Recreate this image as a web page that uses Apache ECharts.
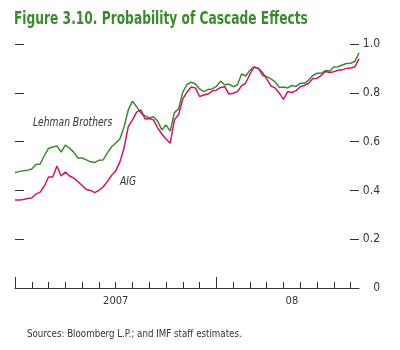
<!DOCTYPE html>
<html>
<head>
    <meta charset="utf-8">
    <script src="https://cdn.jsdelivr.net/npm/echarts@6/dist/echarts.min.js"></script>
    <style>
        html, body { margin: 0; padding: 0; background: #fff; }
        #main { width: 400px; height: 350px; }
    </style>
</head>
<body>
<div id="main"></div>
<script type="text/javascript">
    // readings every quarter month, starting January 2007
    var STEP = 0.25;
    var lehman = [
        0.473, 0.477, 0.481, 0.483, 0.488, 0.506, 0.508, 0.543, 0.572, 0.578,
        0.582, 0.557, 0.586, 0.572, 0.557, 0.533, 0.533, 0.525, 0.517, 0.514,
        0.524, 0.525, 0.553, 0.578, 0.594, 0.611, 0.660, 0.730, 0.766, 0.743,
        0.717, 0.705, 0.697, 0.702, 0.684, 0.648, 0.668, 0.643, 0.719, 0.734,
        0.803, 0.834, 0.844, 0.836, 0.816, 0.805, 0.814, 0.816, 0.826, 0.848,
        0.832, 0.836, 0.825, 0.832, 0.877, 0.869, 0.893, 0.905, 0.900, 0.871,
        0.866, 0.857, 0.845, 0.822, 0.824, 0.820, 0.830, 0.826, 0.839, 0.839,
        0.852, 0.871, 0.880, 0.880, 0.891, 0.889, 0.906, 0.907, 0.914, 0.920,
        0.921, 0.928, 0.964
    ];
    var aig = [
        0.361, 0.361, 0.363, 0.367, 0.369, 0.385, 0.393, 0.418, 0.455, 0.455,
        0.500, 0.459, 0.475, 0.459, 0.451, 0.436, 0.420, 0.404, 0.400, 0.391,
        0.400, 0.414, 0.436, 0.461, 0.480, 0.516, 0.574, 0.661, 0.689, 0.721,
        0.730, 0.693, 0.695, 0.689, 0.656, 0.631, 0.611, 0.593, 0.689, 0.711,
        0.775, 0.803, 0.824, 0.820, 0.785, 0.791, 0.795, 0.807, 0.811, 0.822,
        0.825, 0.795, 0.798, 0.805, 0.828, 0.840, 0.877, 0.906, 0.900, 0.883,
        0.857, 0.828, 0.820, 0.799, 0.773, 0.805, 0.801, 0.809, 0.825, 0.830,
        0.839, 0.859, 0.859, 0.871, 0.887, 0.883, 0.886, 0.892, 0.894, 0.900,
        0.902, 0.906, 0.939
    ];
    var monthTicks = [1, 2, 3, 4, 5, 6, 7, 8, 9, 10, 11, 13, 14, 15, 16, 17, 18, 19, 20];
    var yearTicks = [0, 12];
    var yearLabelAt = [6, 16.5];
    var yearLabelText = ['2007', '08'];

    var GREEN = '#3c8a2e';
    var MAGENTA = '#d2136e';
    var FONT = '"Liberation Sans Narrow", "DejaVu Sans Condensed", sans-serif';

    function pairs(arr) {
        return arr.map(function (v, i) { return [i * STEP, v]; });
    }

    var myChart = echarts.init(document.getElementById('main'));
    var opt = {
        animation: false,
        textStyle: { fontFamily: FONT },
        grid: { left: 15, right: 41, top: 44, bottom: 62 },
        graphic: [
            {
                type: 'text', x: 14, y: 11, scaleX: 0.8,
                style: {
                    text: 'Figure 3.10. Probability of Cascade Effects',
                    fill: GREEN, font: 'bold 17px ' + FONT
                }
            },
            {
                type: 'text', x: 33, y: 117, scaleX: 0.85,
                style: { text: 'Lehman Brothers', fill: '#2f3440', font: 'italic 12px ' + FONT }
            },
            {
                type: 'text', x: 120, y: 176, scaleX: 0.85,
                style: { text: 'AIG', fill: '#2f3440', font: 'italic 12px ' + FONT }
            },
            {
                type: 'text', x: 27, y: 329, scaleX: 0.88,
                style: {
                    text: 'Sources: Bloomberg L.P.; and IMF staff estimates.',
                    fill: '#333', font: '11px ' + FONT
                }
            }
        ],
        xAxis: [
            {
                type: 'value', min: 0, max: 20.5,
                splitLine: { show: false },
                axisLine: { show: true, onZero: false, lineStyle: { color: '#333', width: 1 } },
                axisTick: { show: true, inside: true, length: 6, customValues: monthTicks,
                    lineStyle: { color: '#333' } },
                axisLabel: {
                    customValues: yearLabelAt, margin: 8, color: '#333', fontSize: 11,
                    fontFamily: FONT,
                    formatter: function (v) {
                        var k = yearLabelAt.indexOf(v);
                        return k < 0 ? '' : yearLabelText[k];
                    }
                }
            },
            {
                type: 'value', min: 0, max: 20.5, position: 'bottom', offset: 0,
                splitLine: { show: false },
                axisLine: { show: false, onZero: false },
                axisTick: { show: true, inside: true, length: 11, customValues: yearTicks,
                    lineStyle: { color: '#333' } },
                axisLabel: { show: false }
            }
        ],
        yAxis: [
            {
                type: 'value', position: 'left', min: 0, max: 1, interval: 0.2,
                splitLine: { show: false },
                axisLine: { show: false, onZero: false },
                axisTick: { show: true, inside: true, length: 9, lineStyle: { color: '#333' } },
                axisLabel: { show: false }
            },
            {
                type: 'value', position: 'right', min: 0, max: 1, interval: 0.2,
                splitLine: { show: false },
                axisLine: { show: false, onZero: false },
                axisTick: { show: true, inside: true, length: 9, lineStyle: { color: '#333' } },
                axisLabel: {
                    align: 'right', margin: 21, color: '#333', fontSize: 12, fontFamily: FONT,
                    formatter: function (v) { return v === 0 ? '0' : v.toFixed(1); }
                }
            }
        ],
        series: [
            {
                name: 'Lehman Brothers', type: 'line', data: pairs(lehman),
                showSymbol: false, lineStyle: { color: GREEN, width: 1.5 }
            },
            {
                name: 'AIG', type: 'line', data: pairs(aig),
                showSymbol: false, lineStyle: { color: MAGENTA, width: 1.5 }
            }
        ]
    };
    myChart.setOption(option = opt);
</script>
</body>
</html>
